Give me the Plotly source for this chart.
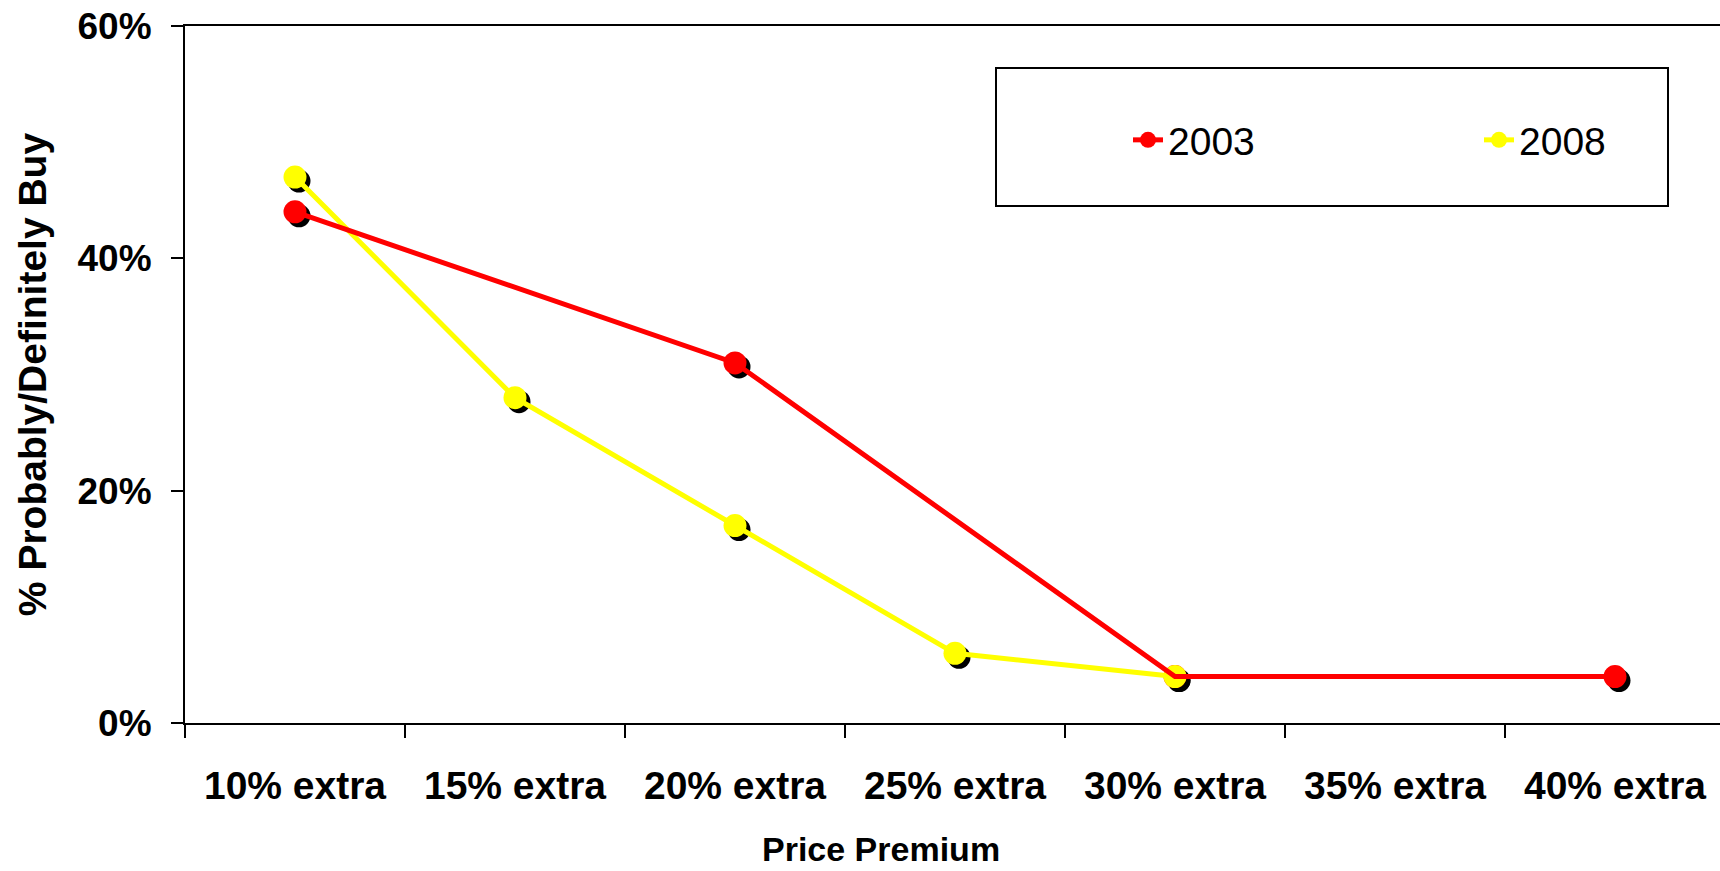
import plotly.graph_objects as go

# Price premium categories and share of respondents who would probably/definitely buy (%)
categories = ["10% extra", "15% extra", "20% extra", "25% extra",
              "30% extra", "35% extra", "40% extra"]
buy_2003 = [44, None, 31, None, 4, None, 4]
buy_2008 = [47, 28, 17, 6, 4, None, None]
y_ticks = [0, 20, 40, 60]
y_tick_labels = ["0%", "20%", "40%", "60%"]

RED = "#FF0000"
YELLOW = "#FFFF00"
FONT = "Liberation Sans, Arial, sans-serif"

W, H = 1720, 871
M_L, M_R, M_T, M_B = 185, 0, 26, 148
plot_w = W - M_L - M_R
plot_h = H - M_T - M_B
cat_px = 220.0
x_range = [-0.5, -0.5 + plot_w / cat_px]
y_range = [0, 60]

# drop shadow offset (pixels) converted to axis-range shifts
SH = 4
sx = SH / cat_px
sy = SH * (y_range[1] - y_range[0]) / plot_h

MS = 23
LW = 5


def px_x(p):
    return (p - M_L) / plot_w


def px_y(p):
    return 1 - (p - M_T) / plot_h


fig = go.Figure()

# shadow markers on the hidden base axes
for vals in (buy_2003, buy_2008):
    fig.add_trace(go.Scatter(
        x=categories, y=vals, mode="markers", xaxis="x", yaxis="y",
        marker=dict(color="black", size=MS), showlegend=False,
        hoverinfo="skip"))

# 2003 markers underneath everything else
fig.add_trace(go.Scatter(
    x=categories, y=buy_2003, mode="markers", xaxis="x2", yaxis="y2",
    marker=dict(color=RED, size=MS), showlegend=False))

# 2008 series
fig.add_trace(go.Scatter(
    x=categories, y=buy_2008, mode="lines+markers", name="2008",
    xaxis="x2", yaxis="y2", connectgaps=True, legend="legend2",
    line=dict(color=YELLOW, width=LW), marker=dict(color=YELLOW, size=MS)))

# 2003 line on top
fig.add_trace(go.Scatter(
    x=categories, y=buy_2003, mode="lines", xaxis="x2", yaxis="y2",
    connectgaps=True, line=dict(color=RED, width=LW), showlegend=False))

# legend entry for 2003
fig.add_trace(go.Scatter(
    x=categories, y=[None] * len(categories), mode="lines+markers", name="2003",
    xaxis="x2", yaxis="y2", legend="legend",
    line=dict(color=RED, width=LW), marker=dict(color=RED, size=MS)))

tick_font = dict(family=FONT, size=39, color="black", weight="bold")
legend_font = dict(family=FONT, size=39, color="black")

fig.update_layout(
    width=W, height=H,
    margin=dict(l=M_L, r=M_R, t=M_T, b=M_B, pad=0),
    paper_bgcolor="white", plot_bgcolor="white",
    font=dict(family=FONT, color="black"),
    xaxis=dict(type="category", categoryorder="array", categoryarray=categories,
               range=[x_range[0] - sx, x_range[1] - sx], visible=False,
               domain=[0, 1]),
    yaxis=dict(range=[y_range[0] + sy, y_range[1] + sy], visible=False,
               domain=[0, 1]),
    xaxis2=dict(type="category", categoryorder="array", categoryarray=categories,
                overlaying="x", anchor="y2", side="bottom", automargin=False,
                range=x_range, showgrid=False, zeroline=False,
                showline=True, linecolor="black", linewidth=2, mirror=True,
                ticks="outside", ticklen=13, tickwidth=1.5, tickcolor="black",
                tickson="boundaries", tickfont=tick_font,
                ticklabelstandoff=27),
    yaxis2=dict(overlaying="y", anchor="x2", side="left", automargin=False,
                range=y_range, tickvals=y_ticks, ticktext=y_tick_labels,
                showgrid=False, zeroline=False,
                showline=True, linecolor="black", linewidth=2,
                ticks="outside", ticklen=12, tickwidth=1.5, tickcolor="black",
                tickfont=dict(family=FONT, size=37, color="black", weight="bold"),
                ticklabelstandoff=12,
                title=dict(text="% Probably/Definitely Buy", standoff=19,
                           font=dict(family=FONT, size=39, color="black",
                                     weight="bold"))),
    legend=dict(x=px_x(1128), xanchor="left", y=px_y(140), yanchor="middle",
                bgcolor="rgba(0,0,0,0)", borderwidth=0, font=legend_font),
    legend2=dict(x=px_x(1479), xanchor="left", y=px_y(140), yanchor="middle",
                 bgcolor="rgba(0,0,0,0)", borderwidth=0, font=legend_font),
    shapes=[dict(type="rect", xref="paper", yref="paper",
                 x0=px_x(996), x1=px_x(1668), y0=px_y(206), y1=px_y(68),
                 line=dict(color="black", width=2), fillcolor="white",
                 layer="below")],
    annotations=[dict(text="Price Premium", xref="paper", yref="paper",
                      x=px_x(881), y=px_y(869), xanchor="center",
                      yanchor="bottom", showarrow=False, borderpad=0,
                      font=dict(family=FONT, size=34, color="black",
                                weight="bold"))],
)

fig.write_html("out.html")
